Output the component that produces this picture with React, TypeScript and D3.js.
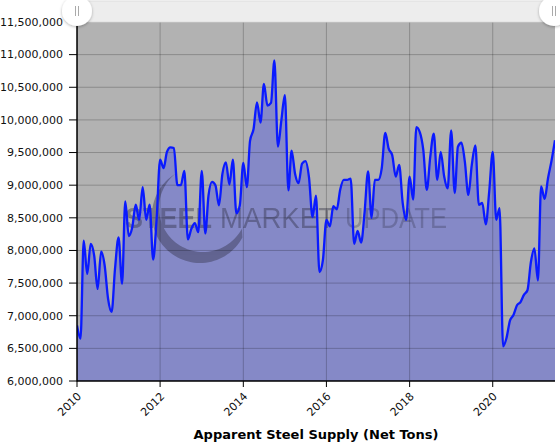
import React from "react";
import * as d3 from "d3";

// Apparent steel supply, monthly, in millions of net tons (Jan 2010 .. Jul 2021)
const supply2010 = [6.85, 6.65, 8.15, 7.64, 8.1, 7.92, 7.41, 7.98, 7.77, 7.26, 7.06, 7.72];
const supply2011 = [8.2, 7.49, 8.75, 8.22, 8.35, 8.7, 8.47, 8.97, 8.47, 8.7, 7.86, 8.47];
const supply2012 = [9.39, 9.26, 9.51, 9.58, 9.57, 9.0, 9.0, 9.22, 8.17, 8.33, 8.42, 8.28];
const supply2013 = [9.22, 8.26, 8.84, 9.05, 9.0, 8.69, 9.17, 9.35, 9.01, 9.39, 8.57, 8.69];
const supply2014 = [9.34, 8.97, 9.68, 9.86, 10.27, 9.96, 10.55, 10.22, 10.26, 10.91, 9.59, 9.99];
const supply2015 = [10.38, 8.92, 9.53, 9.17, 9.03, 9.33, 9.37, 9.12, 8.51, 8.84, 7.67, 7.85];
const supply2016 = [8.47, 8.37, 8.68, 8.63, 8.93, 9.08, 9.08, 9.1, 8.1, 8.3, 8.12, 8.58];
const supply2017 = [9.21, 8.5, 9.08, 9.08, 9.26, 9.8, 9.56, 9.46, 9.13, 9.31, 8.73, 8.47];
const supply2018 = [9.13, 8.78, 9.89, 9.81, 9.54, 8.93, 9.43, 9.79, 9.08, 9.51, 9.13, 8.95];
const supply2019 = [9.84, 8.88, 9.59, 9.65, 9.36, 8.85, 9.31, 9.61, 8.7, 8.73, 8.4, 8.9];
const supply2020 = [9.51, 8.47, 8.65, 6.53, 6.66, 6.93, 7.01, 7.16, 7.21, 7.32, 7.39, 7.82];
const supply2021 = [8.03, 7.54, 8.98, 8.79, 9.11, 9.38, 9.69];

const startYear = 2010;
const yearlySupply = [
  supply2010, supply2011, supply2012, supply2013, supply2014, supply2015,
  supply2016, supply2017, supply2018, supply2019, supply2020, supply2021,
];

const xTickYears = [2010, 2012, 2014, 2016, 2018, 2020];
const yTickValues = [
  6000000, 6500000, 7000000, 7500000, 8000000, 8500000, 9000000,
  9500000, 10000000, 10500000, 11000000, 11500000,
];
const chartTitle = "Apparent Steel Supply (Net Tons)";

type Pt = { date: Date; value: number };

const series: Pt[] = [];
yearlySupply.forEach((arr, yi) => {
  arr.forEach((v, m) => {
    series.push({ date: new Date(startYear + yi, m, 1), value: v * 1e6 });
  });
});

const W = 560;
const H = 444;
const plotLeft = 77;
const plotRight = 555;
const plotTop = 22;
const plotBottom = 381;

export default function App() {
  const x = d3
    .scaleTime()
    .domain([series[0].date, series[series.length - 1].date])
    .range([plotLeft, plotRight]);
  const y = d3
    .scaleLinear()
    .domain([6000000, 11500000])
    .range([plotBottom, plotTop]);

  const line = d3
    .line<Pt>()
    .x((d) => x(d.date))
    .y((d) => y(d.value))
    .curve(d3.curveMonotoneX);
  const area = d3
    .area<Pt>()
    .x((d) => x(d.date))
    .y0(plotBottom)
    .y1((d) => y(d.value))
    .curve(d3.curveMonotoneX);

  const fmt = d3.format(",");

  // watermark crescent
  const crescentPts: [number, number][] = [];
  const c1 = [200, 215], r1 = 48;
  const c2 = [203, 208], r2 = 44;
  const a0 = (235 * Math.PI) / 180, a1 = (28 * Math.PI) / 180;
  const N = 60;
  for (let i = 0; i <= N; i++) {
    const a = a0 + ((a1 - a0) * i) / N;
    crescentPts.push([c1[0] + r1 * Math.cos(a), c1[1] + r1 * Math.sin(a)]);
  }
  for (let i = N; i >= 0; i--) {
    const a = a0 + ((a1 - a0) * i) / N;
    crescentPts.push([c2[0] + r2 * Math.cos(a), c2[1] + r2 * Math.sin(a)]);
  }
  const crescent = "M" + crescentPts.map((p) => p.join(",")).join("L") + "Z";

  const fontFam = "'DejaVu Sans', Verdana, sans-serif";

  return (
    <svg
      width={W}
      height={H}
      style={{ position: "absolute", left: 0, top: 0, display: "block", background: "#fff" }}
      fontFamily={fontFam}
    >
      <defs>
        <clipPath id="plotclip">
          <rect x={plotLeft} y={plotTop} width={plotRight - plotLeft} height={plotBottom - plotTop} />
        </clipPath>
        <filter id="shadow" x="-50%" y="-50%" width="200%" height="200%">
          <feDropShadow dx="0" dy="1" stdDeviation="1.5" floodColor="#000" floodOpacity="0.3" />
        </filter>
      </defs>

      {/* plot background */}
      <rect x={plotLeft} y={plotTop} width={plotRight - plotLeft} height={plotBottom - plotTop} fill="#b2b2b2" />

      <g clipPath="url(#plotclip)">
        <path d={area(series) || ""} fill="#8589c7" />
        {/* watermark */}
        <g opacity={0.4}>
          <path d={crescent} fill="#2c2c40" />
          <text x={125} y={228} fontFamily="'Liberation Sans', Arial, sans-serif" fontSize={30} fontWeight="bold" fill="#2c2c40" textLength={87} lengthAdjust="spacingAndGlyphs">STEEL</text>
          <text x={220} y={228} fontFamily="'Liberation Sans', Arial, sans-serif" fontSize={30} fill="#2c2c40" textLength={115} lengthAdjust="spacingAndGlyphs">MARKET</text>
          <text x={345} y={228} fontFamily="'Liberation Sans', Arial, sans-serif" fontSize={30} fontWeight={300} fill="#2c2c40" opacity={0.7} textLength={102} lengthAdjust="spacingAndGlyphs">UPDATE</text>
        </g>
        {/* gridlines */}
        {yTickValues.map((v) => (
          <line key={"gy" + v} x1={plotLeft} x2={plotRight} y1={y(v)} y2={y(v)} stroke="rgba(0,0,0,0.22)" strokeWidth={1} />
        ))}
        {xTickYears.map((yr) => (
          <line key={"gx" + yr} x1={x(new Date(yr, 0, 1))} x2={x(new Date(yr, 0, 1))} y1={plotTop} y2={plotBottom} stroke="rgba(0,0,0,0.22)" strokeWidth={1} />
        ))}
        <path d={line(series) || ""} fill="none" stroke="#0a1aff" strokeWidth={2.3} strokeLinejoin="round" />
      </g>

      {/* axes */}
      <line x1={plotLeft} x2={plotLeft} y1={plotTop} y2={plotBottom + 0.5} stroke="#000" strokeWidth={1.5} />
      <line x1={plotLeft} x2={plotRight} y1={plotBottom} y2={plotBottom} stroke="#000" strokeWidth={1.5} />
      {yTickValues.map((v) => (
        <g key={"ty" + v}>
          <line x1={plotLeft - 8} x2={plotLeft} y1={y(v)} y2={y(v)} stroke="#000" strokeWidth={1} />
          <text x={63} y={y(v)} dy="0.35em" textAnchor="end" fontSize={11} fill="#111">
            {fmt(v)}
          </text>
        </g>
      ))}
      {xTickYears.map((yr) => {
        const xx = x(new Date(yr, 0, 1));
        return (
          <g key={"tx" + yr}>
            <line x1={xx} x2={xx} y1={plotBottom} y2={plotBottom + 6} stroke="#000" strokeWidth={1} />
            <text transform={`translate(${xx + 5},${plotBottom + 16}) rotate(-45)`} textAnchor="end" fontSize={11} fill="#111">
              {yr}
            </text>
          </g>
        );
      })}

      <text x={(plotLeft + plotRight) / 2} y={439} textAnchor="middle" fontSize={13} fontWeight="bold" fill="#000">
        {chartTitle}
      </text>

      {/* scrollbar */}
      <rect x={plotLeft} y={1} width={W - plotLeft} height={21} fill="#ededed" stroke="#dedede" strokeWidth={1} />
      {[plotLeft, plotRight - 1].map((cx, i) => (
        <g key={"h" + i}>
          <circle cx={cx} cy={11} r={15} fill="#fff" filter="url(#shadow)" />
          <line x1={cx - 1.5} x2={cx - 1.5} y1={6} y2={16} stroke="#aaa" strokeWidth={1} />
          <line x1={cx + 1.5} x2={cx + 1.5} y1={6} y2={16} stroke="#aaa" strokeWidth={1} />
        </g>
      ))}
    </svg>
  );
}
